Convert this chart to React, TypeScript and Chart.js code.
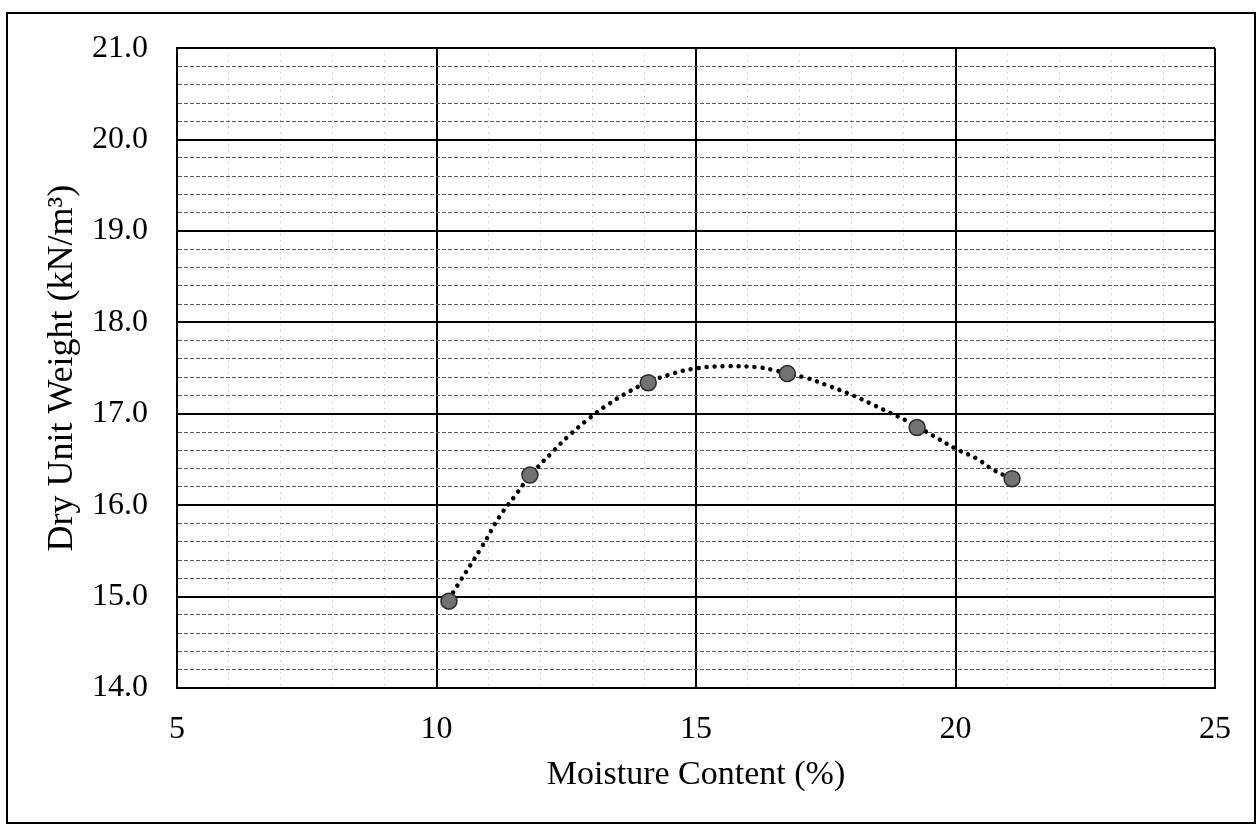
import React, { useEffect, useRef } from "react";
import { Chart, registerables } from "chart.js";

Chart.register(...registerables);

// Measured compaction test points
const moisture = [10.24, 11.8, 14.08, 16.76, 19.26, 21.09];
const dryUnitWeight = [14.95, 16.33, 17.34, 17.44, 16.85, 16.29];

// Trend curve
const trendX = [10.24, 10.39, 10.88, 11.22, 11.51, 11.8, 12.23, 12.57, 12.92, 13.3, 13.73, 14.06, 14.44, 14.92, 15.52, 16.18, 16.48, 17.14, 17.58, 18.03, 18.41, 18.74, 19.07, 19.57, 20.03, 20.41, 20.72, 21.08];
const trendY = [14.97, 15.11, 15.55, 15.88, 16.1, 16.32, 16.58, 16.77, 16.94, 17.1, 17.25, 17.34, 17.42, 17.49, 17.52, 17.51, 17.48, 17.39, 17.3, 17.2, 17.1, 17.01, 16.92, 16.76, 16.61, 16.51, 16.39, 16.29];

const xMin = 5;
const xMax = 25;
const yMin = 14;
const yMax = 21;
const xTitle = "Moisture Content (%)";
const yTitle = "Dry Unit Weight (kN/m³)";

const FONT = "'Liberation Serif', 'Times New Roman', serif";

const isMajorY = (v: number) => Math.abs(v - Math.round(v)) < 1e-6;
const isMajorX = (v: number) => Math.abs(v / 5 - Math.round(v / 5)) < 1e-6;

export default function App() {
  const ref = useRef<HTMLCanvasElement | null>(null);

  useEffect(() => {
    if (!ref.current) return;
    const chart = new Chart(ref.current, {
      type: "scatter",
      data: {
        datasets: [
          {
            label: "points",
            data: moisture.map((x, i) => ({ x, y: dryUnitWeight[i] })),
            pointRadius: 8,
            pointBackgroundColor: "#727272",
            pointBorderColor: "#2a2a2a",
            pointBorderWidth: 1.5,
            showLine: false,
            order: 1,
          },
          {
            label: "trend",
            data: trendX.map((x, i) => ({ x, y: trendY[i] })),
            showLine: true,
            pointRadius: 0,
            borderColor: "#000",
            borderWidth: 4.5,
            borderDash: [0.01, 8],
            borderCapStyle: "round",
            tension: 0.4,
            order: 2,
          },
        ],
      },
      options: {
        responsive: false,
        animation: false,
        layout: { padding: { left: 0, top: 41, right: 45, bottom: 0 } },
        plugins: { legend: { display: false }, tooltip: { enabled: false } },
        scales: {
          x: {
            type: "linear",
            min: xMin,
            max: xMax,
            afterFit: (s: any) => {
              s.height = 140;
            },
            ticks: {
              stepSize: 1,
              autoSkip: false,
              maxRotation: 0,
              padding: 22,
              color: "#000",
              font: { family: FONT, size: 32 },
              callback: (v: any) => (isMajorX(Number(v)) ? String(v) : ""),
            },
            grid: {
              drawTicks: false,
              color: (c: any) => (isMajorX(c.tick.value) ? "#000" : "#b0b0b0"),
              lineWidth: (c: any) => (isMajorX(c.tick.value) ? 2 : 1),
            },
            border: {
              display: true,
              color: "#000",
              width: 2,
              dash: (c: any) => (c.tick && !isMajorX(c.tick.value) ? [1, 5] : []),
            },
            title: {
              display: true,
              text: xTitle,
              color: "#000",
              font: { family: FONT, size: 34 },
              padding: { top: 0, bottom: 33 },
            },
          },
          y: {
            type: "linear",
            min: yMin,
            max: yMax,
            afterFit: (s: any) => {
              s.width = 177;
            },
            ticks: {
              stepSize: 0.2,
              autoSkip: false,
              padding: 29,
              color: "#000",
              font: { family: FONT, size: 32 },
              callback: (v: any) => (isMajorY(Number(v)) ? Number(v).toFixed(1) : ""),
            },
            grid: {
              drawTicks: false,
              color: (c: any) => (isMajorY(c.tick.value) ? "#000" : "#5a5a5a"),
              lineWidth: (c: any) => (isMajorY(c.tick.value) ? 2 : 1),
            },
            border: {
              display: true,
              color: "#000",
              width: 2,
              dash: (c: any) => (c.tick && !isMajorY(c.tick.value) ? [4, 2] : []),
            },
            title: {
              display: true,
              text: yTitle,
              color: "#000",
              font: { family: FONT, size: 36 },
              padding: { top: 41, bottom: 0 },
            },
          },
        },
      },
    } as any);
    return () => chart.destroy();
  }, []);

  return (
    <div style={{ position: "absolute", left: 0, top: 0, width: 1260, height: 828, background: "#fff" }}>
      <div
        style={{
          position: "absolute",
          left: 6,
          top: 12,
          width: 1250,
          height: 812,
          border: "2px solid #000",
          boxSizing: "border-box",
        }}
      />
      <canvas ref={ref} width={1260} height={828} style={{ position: "absolute", left: 0, top: 0 }} />
    </div>
  );
}
